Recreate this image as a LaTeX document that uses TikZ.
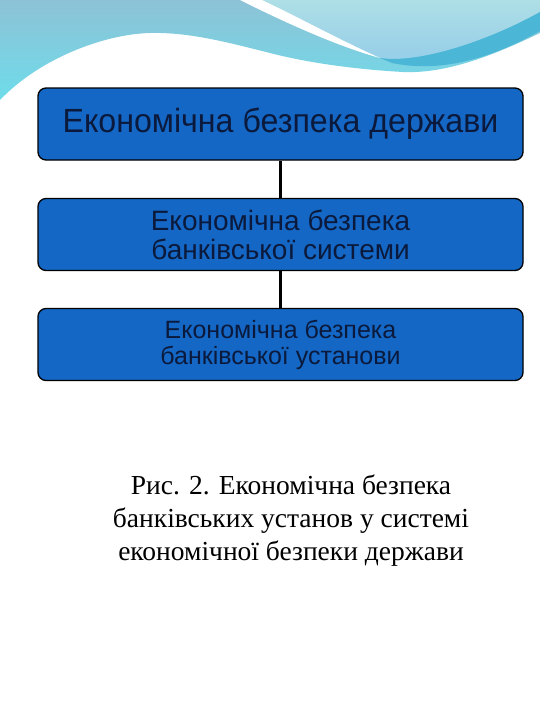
\documentclass[tikz,border=0pt]{standalone}
\usepackage{fontspec}
\setmainfont{Liberation Serif}
\newfontfamily\boxfont{Liberation Sans}
\newfontfamily\boxfontnarrow[FakeStretch=0.96]{Liberation Sans}
\definecolor{boxblue}{HTML}{1467C4}
\definecolor{boxtext}{HTML}{0B1A3C}
\definecolor{bgtop}{HTML}{8DC2D6}
\definecolor{bgbot}{HTML}{6EDCEA}
\definecolor{lighttop}{HTML}{AEDFE6}
\definecolor{lightbot}{HTML}{95CDE9}
\definecolor{darkband}{HTML}{4CB6D6}
\tikzset{
  levelbox/.style={draw=black, line width=1.3pt, fill=boxblue, rounded corners=8pt,
    minimum width=485pt, minimum height=72pt, align=center, text=boxtext, inner sep=0pt},
  link/.style={line width=3.5pt, black}
}
\begin{document}
\begin{tikzpicture}[x=1pt,y=1pt]
\useasboundingbox (0,0) rectangle (540,-720);
\fill[white] (0,0) rectangle (540,-720);
% background waves
\shade[top color=bgtop, bottom color=bgbot] (0,0) -- (540,0) -- (540,-33)
  .. controls (500,-52) and (450,-74) .. (403,-72)
  .. controls (350,-69) and (305,-62) .. (270,-53)
  .. controls (230,-43) and (190,-32) .. (150,-33)
  .. controls (105,-34) and (40,-58) .. (0,-100) -- cycle;
\shade[top color=lighttop, bottom color=lightbot] (262,0)
  .. controls (300,-18) and (340,-40) .. (380,-58)
  .. controls (420,-64) and (490,-40) .. (540,-12) -- (540,0) -- cycle;
\fill[white] (240,0) .. controls (290,-25) and (340,-47) .. (380,-58)
  .. controls (340,-40) and (300,-18) .. (262,0) -- cycle;
\fill[darkband] (380,-58) .. controls (420,-64) and (490,-40) .. (540,-12)
  -- (540,-31) .. controls (490,-59) and (440,-73) .. (392,-63) -- cycle;
% boxes
\node[levelbox, font={\boxfontnarrow\fontsize{33.5}{35}\selectfont}] (b1) at (280.5,-124)
  {Економічна безпека держави};
\node[levelbox, font={\boxfont\fontsize{28}{29}\selectfont}] (b2) at (280.5,-234.5)
  {Економічна безпека\\ банківської системи};
\node[levelbox, font={\boxfont\fontsize{25}{26}\selectfont}] (b3) at (280.5,-344.5)
  {Економічна безпека\\ банківської установи};
\draw[link] (b1.south) -- (b2.north);
\draw[link] (b2.south) -- (b3.north);
% caption
\node[align=center, font={\fontsize{27.5}{33}\selectfont}, text=black] (cap) at (291,-520.5)
  {Рис. 2. Економічна безпека\\ банківських установ у системі\\ економічної безпеки держави};
\end{tikzpicture}
\end{document}
